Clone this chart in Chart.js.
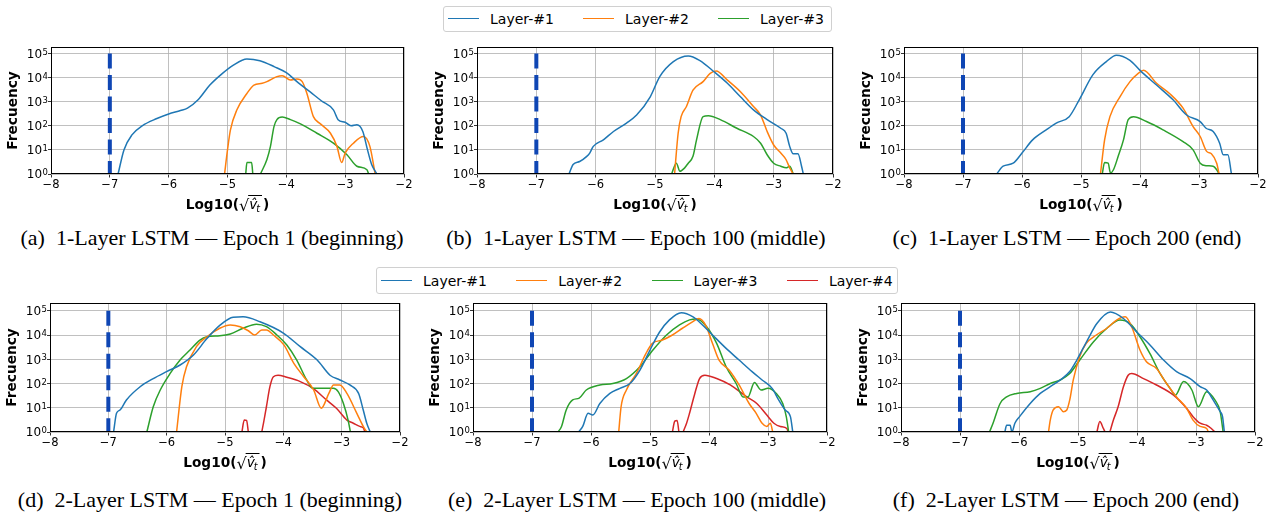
<!DOCTYPE html>
<html>
<head>
<meta charset="utf-8">
<title>LSTM sqrt(v_t) histograms</title>
<script src="https://cdn.jsdelivr.net/npm/chart.js@4.4.1/dist/chart.umd.min.js"></script>
<style>
    html, body { margin: 0; padding: 0; background: #fff; }
    body { width: 1276px; height: 512px; position: relative; overflow: hidden; font-family: "DejaVu Sans", sans-serif; }
    .panel { position: absolute; }
    .legend { position: absolute; border: 1px solid #d0d0d0; border-radius: 3px; background: #fff; box-sizing: border-box; }
    .legend .swatch { position: absolute; width: 31px; height: 0; border-top: 1.5px solid; }
    .legend .label { position: absolute; font-size: 14px; line-height: 16px; color: #000; white-space: nowrap; }
    .caption { position: absolute; font-family: "Liberation Serif", serif; font-size: 22px; line-height: 1; white-space: pre; color: #000; transform: translateX(-50%); }
</style>
</head>
<body>
<script>
// axes
const xTickValues = [-8, -7, -6, -5, -4, -3, -2];
const xTickLabels = ['−8', '−7', '−6', '−5', '−4', '−3', '−2'];
const yTickValues = [1, 10, 100, 1000, 10000, 100000];
const yTickExponents = ['0', '1', '2', '3', '4', '5'];
const yMaxTop = 186000;
const yMaxBottom = 209000;

// dashed reference at log10 = -7
const thresholdX = -7;
const thresholdTop = 100000;

const layerNames = ['Layer-#1', 'Layer-#2', 'Layer-#3', 'Layer-#4'];
const layerColors = ['#1f77b4', '#ff7f0e', '#2ca02c', '#d62728'];

const captions = [
    '(a)  1-Layer LSTM — Epoch 1 (beginning)',
    '(b)  1-Layer LSTM — Epoch 100 (middle)',
    '(c)  1-Layer LSTM — Epoch 200 (end)',
    '(d)  2-Layer LSTM — Epoch 1 (beginning)',
    '(e)  2-Layer LSTM — Epoch 100 (middle)',
    '(f)  2-Layer LSTM — Epoch 200 (end)'
];

// (a) 1-layer, epoch 1
const a1x = [-6.86, -6.76, -6.62, -6.45, -6.2, -6.0, -5.8, -5.68, -5.5, -5.3, -5.1, -4.9, -4.67, -4.45, -4.2, -4.0, -3.8, -3.6, -3.4, -3.2, -3.12, -3.0, -2.9, -2.8, -2.7, -2.62, -2.55, -2.46];
const a1y = [1, 10, 43, 100, 200, 310, 430, 540, 1200, 4900, 14000, 33000, 59000, 50000, 28000, 16000, 6200, 2600, 1070, 460, 180, 140, 100, 110, 58, 10, 2.5, 1];
const a2x = [-5.05, -5.0, -4.95, -4.84, -4.67, -4.55, -4.41, -4.33, -4.16, -4.07, -3.93, -3.82, -3.73, -3.65, -3.54, -3.42, -3.25, -3.14, -3.06, -3.0, -2.86, -2.69, -2.58, -2.49];
const a2y = [1, 10, 68, 460, 2200, 4900, 5800, 6800, 11000, 12000, 7900, 8700, 6800, 2200, 240, 120, 49, 14, 3, 7.4, 19, 36, 14, 1];
const a3x = [-4.69, -4.67, -4.59, -4.57, -4.5, -4.44, -4.33, -4.27, -4.21, -4.16, -4.07, -3.93, -3.76, -3.48, -3.2, -2.97, -2.8, -2.63, -2.6];
const a3y = [1, 3, 3, 1, null, 1, 4, 14, 93, 180, 230, 180, 120, 49, 19, 6.3, 2.1, 1.5, 1];

// (b) 1-layer, epoch 100
const b1x = [-6.45, -6.38, -6.27, -6.15, -6.1, -6.04, -5.87, -5.7, -5.48, -5.31, -5.08, -4.92, -4.69, -4.44, -4.25, -4.0, -3.78, -3.56, -3.34, -3.11, -2.88, -2.79, -2.73, -2.67, -2.59, -2.53, -2.5];
const b1y = [1, 2.5, 3.3, 5.4, 7.4, 14, 26, 58, 130, 280, 1600, 11000, 46000, 79000, 52000, 17000, 5800, 1600, 460, 180, 79, 49, 14, 6.9, 6.9, 2.1, 1];
const b2x = [-4.67, -4.61, -4.56, -4.47, -4.36, -4.19, -4.07, -3.97, -3.78, -3.56, -3.34, -3.22, -3.11, -3.0, -2.88, -2.79, -2.73, -2.67];
const b2y = [1, 49, 240, 630, 3000, 6800, 15000, 19000, 7900, 2600, 630, 280, 58, 16, 7.4, 3.9, 1.8, 1];
const b3x = [-4.72, -4.64, -4.58, -4.5, -4.44, -4.36, -4.3, -4.19, -4.1, -3.9, -3.62, -3.34, -3.22, -3.11, -3.0, -2.88, -2.79, -2.73, -2.67];
const b3y = [1, 2.8, 1.3, 1.8, 2.8, 5.4, 26, 240, 260, 180, 79, 36, 19, 6.3, 2.8, 2.1, 1.8, 2.1, 1];

// (c) 1-layer, epoch 200
const c1x = [-6.43, -6.32, -6.15, -6.0, -5.82, -5.59, -5.42, -5.2, -5.03, -4.8, -4.57, -4.4, -4.17, -4.0, -3.72, -3.44, -3.21, -2.98, -2.88, -2.76, -2.65, -2.59, -2.51, -2.45];
const c1y = [1, 2.1, 2.8, 7.4, 26, 68, 130, 240, 1200, 13000, 46000, 85000, 52000, 20000, 4900, 1200, 280, 150, 79, 58, 19, 6.3, 6.3, 1];
const c2x = [-4.67, -4.6, -4.51, -4.34, -4.17, -4.03, -3.94, -3.72, -3.5, -3.27, -3.1, -2.98, -2.87, -2.79, -2.7, -2.66];
const c2y = [1, 26, 240, 1600, 6800, 15000, 20000, 5800, 2200, 540, 93, 36, 8.7, 6.9, 2.8, 1];
const c3x = [-4.64, -4.6, -4.54, -4.5, -4.45, -4.37, -4.28, -4.2, -4.11, -3.89, -3.61, -3.27, -3.1, -2.98, -2.87, -2.76, -2.7, -2.66];
const c3y = [1, 3, 2.8, 1.1, 1.5, 5.4, 26, 180, 240, 150, 68, 22, 10, 2.8, 2.2, 2.1, 1.5, 1];

// (d) 2-layer, epoch 1
const d1x = [-6.91, -6.86, -6.8, -6.69, -6.46, -6.23, -6.0, -5.77, -5.54, -5.31, -5.08, -4.86, -4.69, -4.4, -4.0, -3.71, -3.42, -3.2, -3.03, -2.86, -2.71, -2.63, -2.57, -2.51];
const d1y = [1, 5.9, 8.1, 21, 72, 160, 310, 580, 1500, 7100, 26000, 54000, 56000, 35000, 12000, 3300, 930, 220, 140, 87, 39, 8.1, 2.3, 1];
const d2x = [-5.83, -5.74, -5.66, -5.49, -5.31, -5.09, -4.91, -4.74, -4.6, -4.49, -4.37, -4.29, -4.17, -3.99, -3.82, -3.65, -3.48, -3.35, -3.22, -3.14, -3.03, -2.91, -2.74, -2.63, -2.57];
const d2y = [1, 74, 490, 3300, 8500, 19000, 26000, 22000, 15000, 10000, 16000, 16000, 10000, 3900, 680, 190, 54, 9.5, 39, 87, 87, 39, 5.9, 1.7, 1];
const d3x = [-6.34, -6.23, -6.11, -5.94, -5.77, -5.6, -5.43, -5.31, -5.09, -4.91, -4.69, -4.46, -4.29, -4.11, -3.94, -3.77, -3.6, -3.49, -3.31, -3.14, -3.06, -2.97, -2.89, -2.85];
const d3y = [1, 11, 54, 260, 930, 2400, 6200, 8500, 9300, 11000, 19000, 28000, 22000, 10000, 3900, 930, 140, 63, 63, 63, 46, 15, 3.1, 1];
const d4x = [-4.71, -4.67, -4.63, -4.6, -4.5, -4.37, -4.34, -4.29, -4.23, -4.17, -4.09, -3.94, -3.71, -3.49, -3.26, -3.09, -2.91, -2.8, -2.69, -2.63, -2.6];
const d4y = [1, 3.1, 3, 1, null, 1, 2.3, 11, 74, 190, 220, 180, 120, 63, 21, 9.5, 3.1, 2.3, 1.7, 1.5, 1];

// (e) 2-layer, epoch 100
const e1x = [-6.21, -6.14, -6.05, -5.97, -5.85, -5.68, -5.51, -5.34, -5.17, -5.0, -4.84, -4.67, -4.47, -4.27, -4.11, -3.94, -3.71, -3.49, -3.27, -3.1, -2.93, -2.82, -2.71, -2.62, -2.58];
const e1y = [1, 1.7, 5.9, 5, 15, 39, 63, 100, 360, 2400, 13000, 42000, 83000, 56000, 26000, 10000, 2800, 930, 310, 140, 63, 21, 8.1, 4.3, 1];
const e2x = [-5.53, -5.49, -5.4, -5.23, -5.07, -4.96, -4.79, -4.62, -4.45, -4.28, -4.17, -4.06, -3.94, -3.83, -3.66, -3.49, -3.32, -3.2, -3.1, -3.02, -2.96, -2.92];
const e2y = [1, 11, 54, 260, 1700, 4500, 6200, 10000, 19000, 35000, 48000, 26000, 4500, 930, 360, 87, 15, 5.9, 2.3, 1.7, 2.3, 1];
const e3x = [-6.56, -6.5, -6.42, -6.31, -6.2, -6.08, -5.85, -5.63, -5.4, -5.17, -4.95, -4.72, -4.5, -4.33, -4.21, -4.04, -3.87, -3.71, -3.54, -3.42, -3.34, -3.23, -3.12, -3.0, -2.86, -2.75, -2.69, -2.65];
const e3y = [1, 1.7, 8.1, 21, 25, 54, 87, 100, 160, 490, 2400, 10000, 26000, 42000, 46000, 22000, 4500, 490, 100, 28, 28, 110, 54, 63, 39, 15, 4.3, 1];
const e4x = [-4.62, -4.58, -4.54, -4.51, -4.47, -4.44, -4.38, -4.33, -4.24, -4.16, -4.07, -3.87, -3.64, -3.36, -3.19, -3.02, -2.9, -2.79, -2.68, -2.66];
const e4y = [1, 2.8, 3, 1, null, 1, 2.3, 5.9, 39, 160, 220, 160, 87, 28, 15, 5, 2.3, 1.7, 1.4, 1];

// (f) 2-layer, epoch 200
const f1x = [-6.24, -6.21, -6.15, -6.12, -6.07, -5.99, -5.81, -5.64, -5.47, -5.3, -5.14, -5.02, -4.84, -4.68, -4.45, -4.23, -4.0, -3.78, -3.55, -3.33, -3.1, -2.93, -2.82, -2.71, -2.59, -2.55, -2.52];
const f1y = [1, 1.9, 1.9, 1, 2.3, 4.3, 15, 39, 74, 140, 310, 930, 6200, 30000, 89000, 48000, 13000, 3900, 930, 310, 160, 74, 54, 21, 6.9, 4.3, 1];
const f2x = [-5.5, -5.47, -5.42, -5.33, -5.25, -5.19, -5.14, -5.08, -4.97, -4.86, -4.69, -4.51, -4.34, -4.2, -4.09, -3.95, -3.84, -3.67, -3.5, -3.33, -3.16, -3.05, -2.93, -2.82, -2.79];
const f2y = [1, 3.1, 8.1, 11, 6.9, 8.1, 21, 140, 1300, 4500, 10000, 19000, 42000, 56000, 22000, 2400, 790, 420, 100, 28, 9.5, 3.1, 1.7, 1.4, 1];
const f3x = [-6.5, -6.44, -6.32, -6.21, -6.04, -5.81, -5.64, -5.47, -5.3, -5.14, -4.97, -4.74, -4.51, -4.29, -4.12, -3.95, -3.78, -3.61, -3.44, -3.35, -3.21, -3.07, -2.96, -2.82, -2.68, -2.59, -2.54];
const f3y = [1, 2.3, 15, 28, 39, 46, 63, 100, 140, 260, 930, 5200, 19000, 42000, 30000, 8500, 1700, 260, 63, 33, 120, 54, 11, 46, 21, 6.9, 1];
const f4x = [-4.68, -4.63, -4.57, -4.54, -4.5, -4.46, -4.4, -4.32, -4.23, -4.15, -4.09, -3.89, -3.67, -3.38, -3.16, -3.05, -2.93, -2.82, -2.74, -2.68];
const f4y = [1, 2.7, 1.4, 1, null, 1, 3.1, 11, 74, 220, 260, 160, 87, 33, 9.5, 4.3, 2.3, 1.9, 1.4, 1];

// page layout: plot box [left, top, right, bottom], caption centre
const panels = [
    { box: [51, 47, 404, 174], yMax: yMaxTop, cap: 212, series: [[a1x, a1y], [a2x, a2y], [a3x, a3y]] },
    { box: [477, 47, 833, 174], yMax: yMaxTop, cap: 636, series: [[b1x, b1y], [b2x, b2y], [b3x, b3y]] },
    { box: [904, 47, 1258, 174], yMax: yMaxTop, cap: 1067, series: [[c1x, c1y], [c2x, c2y], [c3x, c3y]] },
    { box: [50, 303, 400, 432], yMax: yMaxBottom, cap: 210, series: [[d1x, d1y], [d2x, d2y], [d3x, d3y], [d4x, d4y]] },
    { box: [473, 303, 827, 432], yMax: yMaxBottom, cap: 637, series: [[e1x, e1y], [e2x, e2y], [e3x, e3y], [e4x, e4y]] },
    { box: [901, 303, 1255, 432], yMax: yMaxBottom, cap: 1066, series: [[f1x, f1y], [f2x, f2y], [f3x, f3y], [f4x, f4y]] }
];

const Y_AXIS_W = 51, X_AXIS_H = 46, PAD_TOP = 10, PAD_RIGHT = 20;
const TICK_FONT = { family: 'DejaVu Sans', size: 11.5 };

// black box around the plot area, drawn over the curves
const framePlugin = {
    id: 'frame',
    afterDatasetsDraw(chart) {
        const { ctx, chartArea: a } = chart;
        ctx.save();
        ctx.strokeStyle = '#000';
        ctx.lineWidth = 1;
        ctx.strokeRect(Math.round(a.left) + 0.5, Math.round(a.top) + 0.5,
            Math.round(a.right - a.left) - 1, Math.round(a.bottom - a.top) - 1);
        ctx.restore();
    }
};

// y tick labels as 10 with a raised exponent
const powerLabelsPlugin = {
    id: 'powerLabels',
    afterDraw(chart) {
        const { ctx, chartArea: a, scales } = chart;
        const baseFont = '12px "DejaVu Sans"';
        const supFont = '8.5px "DejaVu Sans"';
        const right = a.left - 3;
        ctx.save();
        ctx.fillStyle = '#000';
        ctx.textBaseline = 'alphabetic';
        ctx.textAlign = 'left';
        yTickValues.forEach((v, i) => {
            const py = scales.y.getPixelForValue(v);
            const exp = yTickExponents[i];
            ctx.font = supFont; const ws = ctx.measureText(exp).width;
            ctx.font = baseFont; const wb = ctx.measureText('10').width;
            ctx.fillText('10', right - ws - wb - 0.5, py + 4.4);
            ctx.font = supFont;
            ctx.fillText(exp, right - ws, py + 1.2);
        });
        ctx.restore();
    }
};

// x label: Log10( sqrt(v-hat_t) ) with a radical bar
const xTitlePlugin = {
    id: 'xTitle',
    afterDraw(chart) {
        const { ctx, chartArea: a } = chart;
        const base = a.bottom + 35;
        const bold = 'bold 13.7px "DejaVu Sans"';
        const rad = '16px "DejaVu Sans"';
        const ital = 'oblique 13.7px "DejaVu Sans"';
        const sub = 'oblique 9.6px "DejaVu Sans"';
        ctx.save();
        ctx.fillStyle = '#000';
        ctx.textBaseline = 'alphabetic';
        ctx.font = bold; const w1 = ctx.measureText('Log10(').width; const w5 = ctx.measureText(')').width;
        ctx.font = rad; const w2 = ctx.measureText('√').width;
        ctx.font = ital; const w3 = ctx.measureText('v̂').width;
        ctx.font = sub; const w4 = ctx.measureText('t').width;
        const total = w1 + w2 + w3 + w4 + 2 + w5;
        let x = (a.left + a.right) / 2 - total / 2;
        ctx.font = bold; ctx.fillText('Log10(', x, base); x += w1;
        ctx.font = rad; ctx.fillText('√', x, base + 2); x += w2;
        const barStart = x - 1;
        ctx.font = ital; ctx.fillText('v̂', x, base); x += w3;
        ctx.font = sub; ctx.fillText('t', x - 1, base + 3); x += w4 + 2;
        ctx.strokeStyle = '#000';
        ctx.lineWidth = 1;
        ctx.beginPath();
        ctx.moveTo(barStart, base - 13.5);
        ctx.lineTo(x - 1, base - 13.5);
        ctx.stroke();
        ctx.font = bold; ctx.fillText(')', x, base);
        ctx.restore();
    }
};

function toPoints(xs, ys) {
    return xs.map((x, i) => ({ x: x, y: ys[i] }));
}

function makePanel(p, k) {
    const [l, t, r, b] = p.box;
    const wrap = document.createElement('div');
    wrap.className = 'panel';
    wrap.style.left = (l - Y_AXIS_W) + 'px';
    wrap.style.top = (t - PAD_TOP) + 'px';
    wrap.style.width = (r - l + Y_AXIS_W + PAD_RIGHT) + 'px';
    wrap.style.height = (b - t + PAD_TOP + X_AXIS_H) + 'px';
    const canvas = document.createElement('canvas');
    wrap.appendChild(canvas);
    document.body.appendChild(wrap);

    const datasets = p.series.map(([xs, ys], i) => ({
        label: layerNames[i],
        data: toPoints(xs, ys),
        borderColor: layerColors[i],
        borderWidth: 1.5,
        pointRadius: 0,
        fill: false,
        spanGaps: false,
        cubicInterpolationMode: 'monotone'
    }));
    datasets.push({
        label: 'threshold',
        data: [{ x: thresholdX, y: thresholdTop }, { x: thresholdX, y: 1 }],
        borderColor: '#0f46b4',
        borderWidth: 4,
        borderDash: [15, 6.5],
        pointRadius: 0,
        fill: false
    });

    new Chart(canvas, {
        type: 'line',
        data: { datasets },
        options: {
            responsive: true,
            maintainAspectRatio: false,
            animation: false,
            devicePixelRatio: 1,
            layout: { padding: { left: 0, top: PAD_TOP, right: PAD_RIGHT, bottom: 0 } },
            plugins: { legend: { display: false }, tooltip: { enabled: false } },
            scales: {
                x: {
                    type: 'linear',
                    min: -8,
                    max: -2,
                    afterBuildTicks: s => { s.ticks = xTickValues.map(v => ({ value: v })); },
                    afterFit: s => { s.height = X_AXIS_H; },
                    ticks: {
                        font: TICK_FONT, color: '#000', padding: 1, maxRotation: 0, autoSkip: false,
                        callback: v => xTickLabels[xTickValues.indexOf(v)]
                    },
                    grid: { color: '#b0b0b0', lineWidth: 0.8, tickColor: '#000', tickLength: 3.5 },
                    border: { display: false }
                },
                y: {
                    type: 'logarithmic',
                    min: 1,
                    max: p.yMax,
                    afterBuildTicks: s => { s.ticks = yTickValues.map(v => ({ value: v })); },
                    afterFit: s => { s.width = Y_AXIS_W; },
                    ticks: { display: false },
                    grid: { color: '#b0b0b0', lineWidth: 0.8, tickColor: '#000', tickLength: 3 },
                    border: { display: false },
                    title: {
                        display: true,
                        text: 'Frecuency',
                        color: '#000',
                        font: { family: 'DejaVu Sans', size: 13.7, weight: 'bold' },
                        padding: { top: 5, bottom: 0 }
                    }
                }
            }
        },
        plugins: [framePlugin, powerLabelsPlugin, xTitlePlugin]
    });

    const cap = document.createElement('div');
    cap.className = 'caption';
    cap.textContent = captions[k];
    cap.style.left = p.cap + 'px';
    cap.style.top = (k < 3 ? 226.5 : 488.5) + 'px';
    document.body.appendChild(cap);
}

// legend box: left, top, width, height, item step, number of layers
function makeLegend(left, top, width, height, step, count, lineY, textTop) {
    const box = document.createElement('div');
    box.className = 'legend';
    box.style.left = left + 'px';
    box.style.top = top + 'px';
    box.style.width = width + 'px';
    box.style.height = height + 'px';
    for (let i = 0; i < count; i++) {
        const sw = document.createElement('div');
        sw.className = 'swatch';
        sw.style.left = (4 + i * step) + 'px';
        sw.style.top = lineY + 'px';
        sw.style.borderColor = layerColors[i];
        box.appendChild(sw);
        const lb = document.createElement('div');
        lb.className = 'label';
        lb.style.left = (46 + i * step) + 'px';
        lb.style.top = textTop + 'px';
        lb.textContent = layerNames[i];
        box.appendChild(lb);
    }
    document.body.appendChild(box);
}

panels.forEach(makePanel);
makeLegend(443, 6, 389, 26, 135, 3, 10.5, 4);
makeLegend(376, 267, 522, 27, 135.3, 4, 11.5, 5);
</script>
</body>
</html>
